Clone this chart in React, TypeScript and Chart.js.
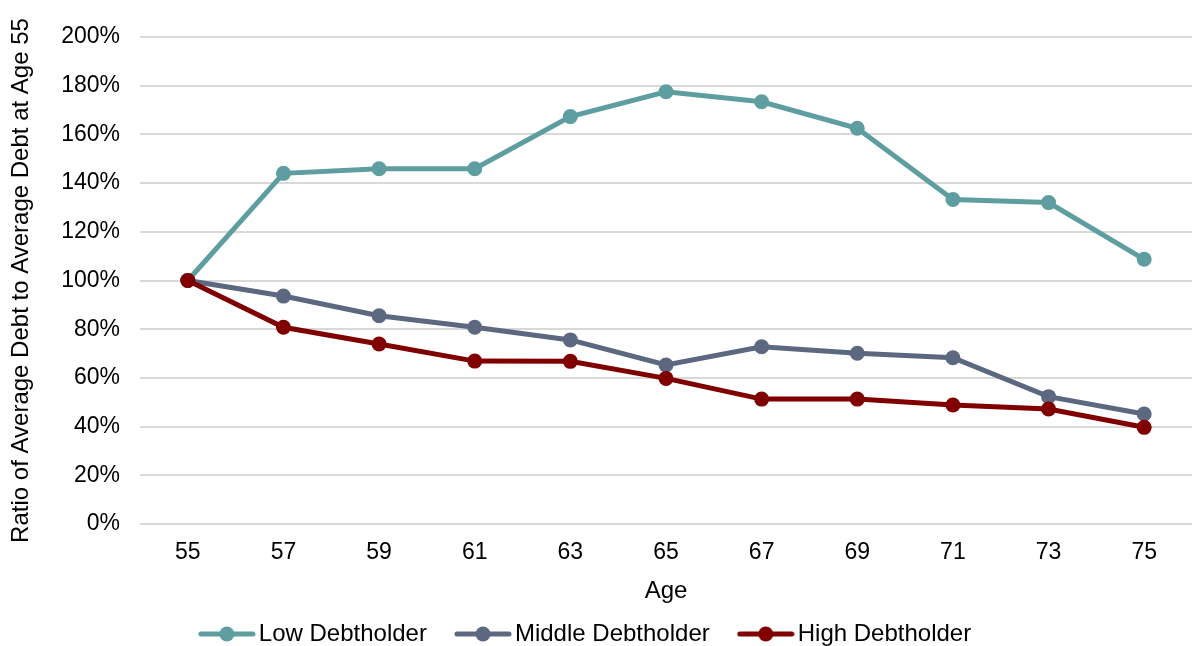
import React, { useEffect, useRef } from "react";
import { Chart, registerables } from "chart.js";

Chart.register(...registerables);

// Ages along the horizontal axis
const ages = ["55", "57", "59", "61", "63", "65", "67", "69", "71", "73", "75"];

// Ratio of average debt to average debt at age 55, in percent
const lowDebtholder = [100, 144.0, 145.9, 145.9, 167.3, 177.5, 173.4, 162.5, 133.3, 132.0, 108.7];
const middleDebtholder = [100, 93.6, 85.5, 80.8, 75.6, 65.3, 72.8, 70.1, 68.3, 52.3, 45.2];
const highDebtholder = [100, 80.8, 73.9, 66.9, 66.8, 59.8, 51.3, 51.3, 48.9, 47.2, 39.7];

const seriesNames = ["Low Debtholder", "Middle Debtholder", "High Debtholder"];
const seriesColors = ["#5F9EA0", "#5B6880", "#800000"];

const yTicksMax = 200;
const yTicksStep = 20;

const FONT = "'Liberation Sans', Arial, sans-serif";

// Legend marker: short line with a dot in the middle
function makeMarker(color: string): HTMLCanvasElement {
  const c = document.createElement("canvas");
  c.width = 58;
  c.height = 18;
  const g = c.getContext("2d")!;
  g.strokeStyle = color;
  g.lineWidth = 5;
  g.lineCap = "round";
  g.beginPath();
  g.moveTo(3, 9);
  g.lineTo(55, 9);
  g.stroke();
  g.fillStyle = color;
  g.beginPath();
  g.arc(29, 9, 7.5, 0, Math.PI * 2);
  g.fill();
  return c;
}

// Nudges the legend row sideways and down
const legendShift = {
  id: "legendShift",
  afterLayout(chart: any) {
    const lg = chart.legend;
    if (lg) {
      lg.left -= 7;
      lg.right -= 7;
      lg.top += 10;
      lg.bottom += 10;
    }
  },
};

export default function App() {
  const ref = useRef<HTMLCanvasElement | null>(null);

  useEffect(() => {
    if (!ref.current) return;
    const values = [lowDebtholder, middleDebtholder, highDebtholder];
    const markers = seriesColors.map(makeMarker);
    const chart = new Chart(ref.current, {
      type: "line",
      data: {
        labels: ages,
        datasets: values.map((v, i) => ({
          label: seriesNames[i],
          data: v,
          borderColor: seriesColors[i],
          backgroundColor: seriesColors[i],
          pointBackgroundColor: seriesColors[i],
          pointBorderWidth: 0,
          pointRadius: 7.5,
          borderWidth: 5,
          tension: 0,
          order: 3 - i,
          pointStyle: "circle",
        })),
      },
      plugins: [legendShift],
      options: {
        animation: false,
        responsive: false,
        maintainAspectRatio: false,
        layout: { padding: { left: 0, right: 10, top: 37, bottom: 0 } },
        plugins: {
          tooltip: { enabled: false },
          legend: {
            position: "bottom",
            labels: {
              usePointStyle: true,
              pointStyleWidth: 40,
              padding: 36,
              color: "#000",
              font: { family: FONT, size: 24 },
              sort: (a: any, b: any) => a.datasetIndex - b.datasetIndex,
              generateLabels: (chart: any) =>
                chart.data.datasets.map((d: any, i: number) => ({
                  text: d.label,
                  datasetIndex: i,
                  pointStyle: markers[i],
                  fillStyle: seriesColors[i],
                  strokeStyle: seriesColors[i],
                  lineWidth: 0,
                  hidden: false,
                  fontColor: "#000",
                })),
            },
          },
        },
        scales: {
          x: {
            offset: true,
            grid: { display: false, drawTicks: false },
            border: { display: false },
            ticks: { color: "#000", font: { family: FONT, size: 23 }, padding: 15 },
            title: {
              display: true,
              text: "Age",
              color: "#000",
              font: { family: FONT, size: 24 },
              padding: { top: 0, bottom: -30 },
            },
            afterFit: (s: any) => {
              s.height = 52;
            },
          },
          y: {
            min: 0,
            max: yTicksMax,
            grid: { color: "#d9d9d9", lineWidth: 2, drawTicks: false },
            border: { display: false },
            ticks: {
              stepSize: yTicksStep,
              color: "#000",
              padding: 20,
              font: { family: FONT, size: 23 },
              callback: (v: any) => v + "%",
            },
            title: {
              display: true,
              text: "Ratio of Average Debt to Average Debt at Age 55",
              color: "#000",
              font: { family: FONT, size: 24 },
              padding: { top: 7, bottom: 0 },
            },
            afterFit: (s: any) => {
              s.width = 140;
            },
          },
        },
      },
    });
    return () => chart.destroy();
  }, []);

  return (
    <div style={{ position: "absolute", left: 0, top: 0, width: 1202, height: 646, background: "#fff" }}>
      <canvas ref={ref} width={1202} height={646} style={{ display: "block" }} />
    </div>
  );
}
